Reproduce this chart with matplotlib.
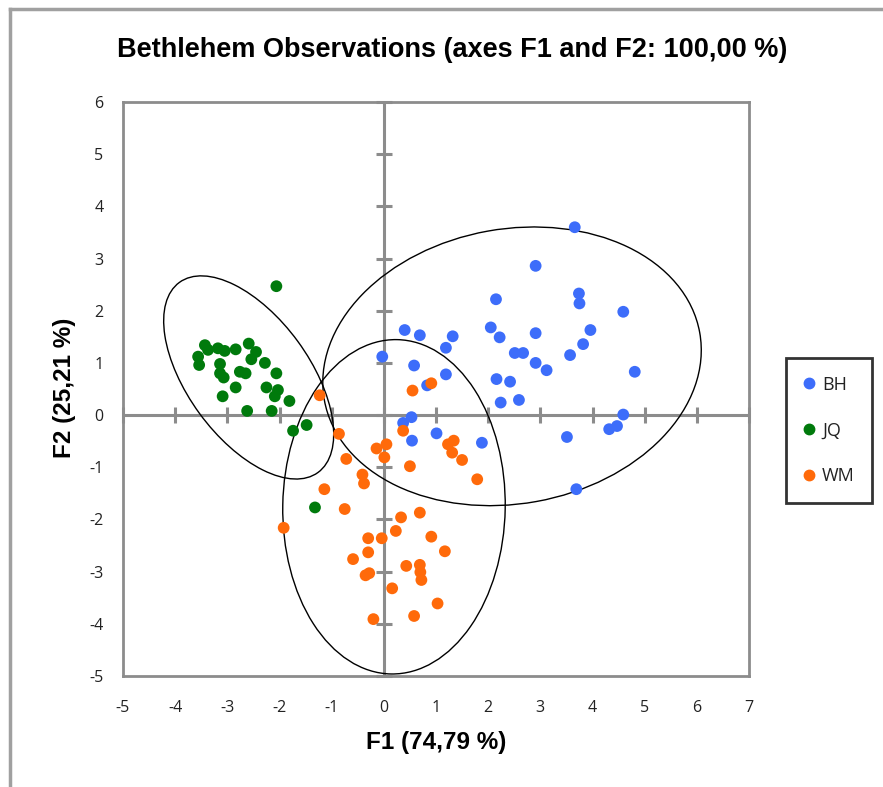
import numpy as np
import matplotlib
matplotlib.use("Agg")
import matplotlib.pyplot as plt
from matplotlib.patches import Ellipse
from matplotlib.lines import Line2D

plt.rcParams["axes.unicode_minus"] = False

# Factor scores of the observations, by group
bh_x = [3.66, 2.91, 2.15, 3.74, 3.75, 4.59, 0.40, 0.69, 1.32, 1.19, 2.05, 2.22, 2.91,
        3.96, 3.82, 2.51, 2.67, 3.57, -0.03, 0.58, 2.91, 3.12, 4.81, 1.19, 2.16, 2.42,
        0.83, 2.24, 2.59, 4.59, 0.53, 0.37, 4.32, 4.47, 1.01, 3.51, 0.54, 1.88, 3.69]
bh_y = [3.60, 2.86, 2.22, 2.33, 2.14, 1.98, 1.63, 1.53, 1.51, 1.29, 1.68, 1.49, 1.57,
        1.63, 1.36, 1.19, 1.19, 1.15, 1.12, 0.95, 1.00, 0.86, 0.83, 0.78, 0.69, 0.64,
        0.57, 0.24, 0.29, 0.01, -0.04, -0.15, -0.27, -0.21, -0.35, -0.42, -0.49, -0.53, -1.42]

jq_x = [-2.06, -3.43, -3.56, -3.54, -3.37, -3.18, -3.05, -2.84, -2.59, -2.45, -2.54,
        -2.28, -3.14, -3.14, -3.07, -2.76, -2.65, -2.06, -2.84, -2.25, -2.03, -2.09,
        -3.09, -1.81, -2.62, -2.15, -1.74, -1.48, -1.32]
jq_y = [2.47, 1.34, 1.12, 0.96, 1.25, 1.28, 1.23, 1.26, 1.37, 1.21, 1.07, 1.00, 0.98,
        0.80, 0.72, 0.83, 0.80, 0.80, 0.53, 0.53, 0.48, 0.36, 0.36, 0.27, 0.08, 0.08,
        -0.30, -0.19, -1.77]

wm_x = [-1.23, 0.91, 0.55, 0.37, -0.86, -0.14, 0.05, 0.01, -0.72, 0.50, 1.23, 1.34,
        1.31, 1.50, 1.79, -0.41, -0.38, -1.14, -0.75, -1.92, 0.33, 0.69, 0.23, -0.30,
        -0.04, 0.91, 1.17, -0.30, -0.59, 0.43, 0.69, 0.70, 0.72, -0.35, -0.28, 0.16,
        1.03, -0.20, 0.58]
wm_y = [0.38, 0.61, 0.47, -0.30, -0.36, -0.64, -0.56, -0.81, -0.84, -0.98, -0.56, -0.49,
        -0.72, -0.86, -1.23, -1.14, -1.31, -1.42, -1.80, -2.16, -1.96, -1.87, -2.22, -2.36,
        -2.36, -2.33, -2.61, -2.63, -2.76, -2.89, -2.87, -3.01, -3.16, -3.07, -3.03, -3.32,
        -3.61, -3.91, -3.85]

groups = ["BH", "JQ", "WM"]
colors = {"BH": "#3D6DFA", "JQ": "#007A0C", "WM": "#FF6A0A"}
xticks = list(range(-5, 8))
yticks = list(range(-5, 7))

title = "Bethlehem Observations (axes F1 and F2: 100,00 %)"
xlabel = "F1 (74,79 %)"
ylabel = "F2 (25,21 %)"

data = {"BH": (bh_x, bh_y), "JQ": (jq_x, jq_y), "WM": (wm_x, wm_y)}

boldfont = ["Liberation Sans", "DejaVu Sans"]
tickfont = ["Open Sans", "DejaVu Sans"]

fig = plt.figure(figsize=(8.83, 7.87), dpi=100)
ax = fig.add_axes([123 / 883, 1 - 676 / 787, 626 / 883, 574 / 787])

grey = "#8C8C8C"
# Central axes through the origin with crossing tick marks
ax.axhline(0, color=grey, lw=2.2, zorder=1)
ax.axvline(0, color=grey, lw=2.2, zorder=1)
ax.plot(xticks, [0] * len(xticks), ls="none", marker="|", ms=11, mew=2.2,
        color=grey, zorder=1, clip_on=False)
ax.plot([0] * len(yticks), yticks, ls="none", marker="_", ms=11, mew=2.2,
        color=grey, zorder=1, clip_on=False)


def f2_quantile(p, m):
    # quantile of the F(2, m) distribution (closed form)
    return (m / 2.0) * ((1.0 - p) ** (-2.0 / m) - 1.0)


# 95 % confidence ellipses from each group's covariance (Hotelling T2 scaling)
for g in groups:
    x, y = np.asarray(data[g][0]), np.asarray(data[g][1])
    n = len(x)
    k = np.sqrt(2.0 * (n - 1) / (n - 2) * f2_quantile(0.95, n - 2))
    cov = np.cov(x, y)
    vals, vecs = np.linalg.eigh(cov)
    order = vals.argsort()[::-1]
    vals, vecs = vals[order], vecs[:, order]
    ang = np.degrees(np.arctan2(vecs[1, 0], vecs[0, 0]))
    e = Ellipse((x.mean(), y.mean()), 2 * k * np.sqrt(vals[0]), 2 * k * np.sqrt(vals[1]),
                angle=ang, fill=False, ec="black", lw=1.0, zorder=2)
    ax.add_patch(e)

for g in groups:
    ax.scatter(data[g][0], data[g][1], s=72, color=colors[g], edgecolors="none",
               zorder=3, label=g)

ax.set_xlim(-5, 7)
ax.set_ylim(-5, 6)
ax.set_xticks(xticks)
ax.set_yticks(yticks)
ax.tick_params(length=0, labelsize=11.5, labelcolor="#222222")
ax.tick_params(axis="x", pad=17)
ax.tick_params(axis="y", pad=14)
for lab in ax.get_xticklabels() + ax.get_yticklabels():
    lab.set_family(tickfont)
for s in ax.spines.values():
    s.set_color(grey)
    s.set_linewidth(2.0)

fig.text(452.5 / 883, 1 - 50 / 787, title, ha="center", va="center", fontsize=19.5,
         fontweight="bold", family=boldfont)
fig.text(436 / 883, 1 - 742 / 787, xlabel, ha="center", va="center", fontsize=17.5,
         fontweight="bold", family=boldfont)
fig.text(65 / 883, 1 - 388 / 787, ylabel, ha="center", va="center", fontsize=17.5,
         fontweight="bold", family=boldfont, rotation=90)

handles = [Line2D([], [], ls="none", marker="o", ms=7.5, color=colors[g]) for g in groups]
leg = fig.legend(handles, groups, loc="center left",
                 bbox_to_anchor=(786 / 883, 1 - 430.5 / 787), frameon=True, fancybox=False,
                 edgecolor="black", fontsize=13, labelspacing=1.55, handlelength=0.6,
                 handletextpad=0.45, borderpad=0.95, borderaxespad=0)
leg.get_frame().set_linewidth(2.0)
for t in leg.get_texts():
    t.set_family(tickfont)
    t.set_color("#222222")

# Window edges at top and left
fig.add_artist(Line2D([10 / 883, 10 / 883], [0, 1 - 9 / 787], color="#A0A0A0", lw=2.5))
fig.add_artist(Line2D([10 / 883, 1], [1 - 9 / 787, 1 - 9 / 787], color="#A0A0A0", lw=2.5))

fig.savefig("out.png", dpi=100)
